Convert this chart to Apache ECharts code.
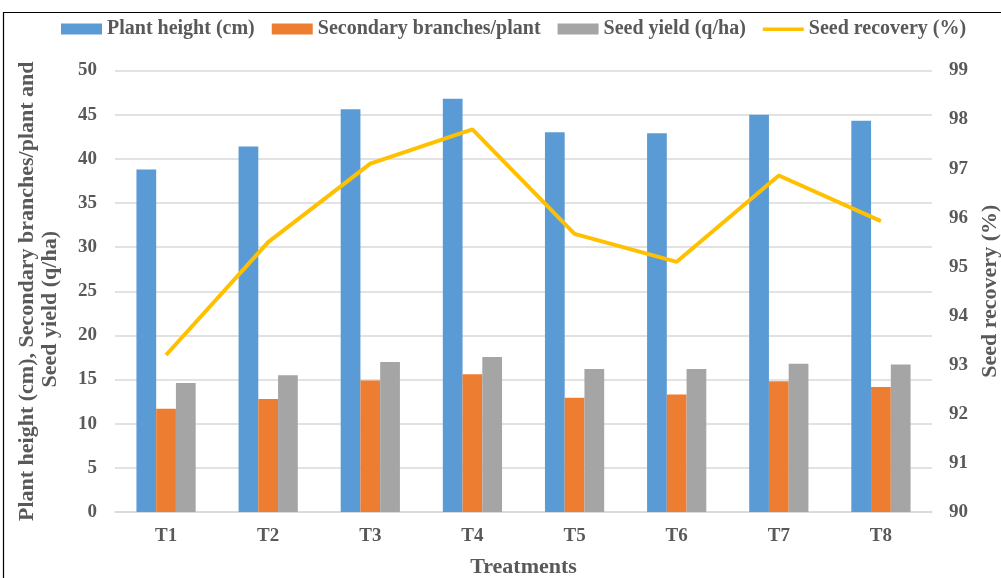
<!DOCTYPE html>
<html><head><meta charset="utf-8">
<script src="https://cdn.jsdelivr.net/npm/echarts@6/dist/echarts.min.js"></script>
<style>html,body{margin:0;padding:0;background:#fff}#c{width:1001px;height:578px}</style>
</head><body><div id="c"></div>
<script>
const categories = ['T1','T2','T3','T4','T5','T6','T7','T8'];
const plantHeight = [38.8, 41.4, 45.6, 46.8, 43.0, 42.9, 45.0, 44.3];
const secondaryBranches = [11.7, 12.8, 14.9, 15.6, 12.95, 13.3, 14.8, 14.15];
const seedYield = [14.6, 15.5, 17.0, 17.55, 16.2, 16.2, 16.8, 16.7];
const seedRecovery = [93.2, 95.5, 97.1, 97.8, 95.67, 95.1, 96.86, 95.93];
const leftTicks = {min: 0, max: 50, interval: 5};
const rightTicks = {min: 90, max: 99, interval: 1};

const FONT = '"Liberation Serif", "Times New Roman", serif';
const TXT = '#595959';
const lineIcon = 'path://M0,0L0.01,0L0.01,0.01Z M0,4L41,4L41,7.5L0,7.5Z M0,11L0.01,11L0.01,10.99Z';
const chart = echarts.init(document.getElementById('c'), null, {renderer: 'canvas'});
chart.setOption({
  animation: false,
  textStyle: {fontFamily: FONT},
  graphic: [{type: 'rect', shape: {x: 3.5, y: 12.5, width: 1010, height: 600}, style: {fill: 'none', stroke: '#000', lineWidth: 1.2}, silent: true, z: 100}],
  legend: {
    top: 19, left: 61, padding: 0,
    itemWidth: 41, itemHeight: 11, itemGap: 17,
    textStyle: {fontFamily: FONT, fontSize: 20, fontWeight: 'bold', color: TXT},
    data: [
      {name: 'Plant height (cm)', icon: 'rect'},
      {name: 'Secondary branches/plant', icon: 'rect'},
      {name: 'Seed yield (q/ha)', icon: 'rect'},
      {name: 'Seed recovery (%)', icon: lineIcon, itemStyle: {color: '#FFC000'}}
    ]
  },
  grid: {left: 115, right: 69, top: 70.5, bottom: 66, containLabel: false, outerBoundsMode: 'none'},
  xAxis: {
    type: 'category', data: categories,
    name: 'Treatments', nameLocation: 'middle', nameGap: 44,
    nameTextStyle: {fontFamily: FONT, fontSize: 22, fontWeight: 'bold', color: TXT},
    axisLine: {lineStyle: {color: '#D9D9D9', width: 1.5}},
    axisTick: {show: false},
    axisLabel: {fontFamily: FONT, fontSize: 19, fontWeight: 'bold', color: TXT, margin: 15}
  },
  yAxis: [{
    type: 'value', min: leftTicks.min, max: leftTicks.max, interval: leftTicks.interval,
    name: 'Plant height (cm), Secondary branches/plant and\n{s|Seed yield (q/ha)}',
    nameLocation: 'middle', nameGap: 53, nameRotate: 90,
    nameTextStyle: {fontFamily: FONT, fontSize: 22, fontWeight: 'bold', color: TXT, lineHeight: 23,
      rich: {s: {fontFamily: FONT, fontSize: 22, fontWeight: 'bold', color: TXT, lineHeight: 23, padding: [0, 36, 0, 0]}}},
    axisLine: {show: false}, axisTick: {show: false},
    axisLabel: {fontFamily: FONT, fontSize: 19, fontWeight: 'bold', color: TXT, margin: 18},
    splitLine: {lineStyle: {color: '#D9D9D9', width: 1.5}}
  }, {
    type: 'value', min: rightTicks.min, max: rightTicks.max, interval: rightTicks.interval,
    name: 'Seed recovery (%)', nameLocation: 'middle', nameGap: 47, nameRotate: 90,
    nameTextStyle: {fontFamily: FONT, fontSize: 22, fontWeight: 'bold', color: TXT},
    axisLine: {show: false}, axisTick: {show: false},
    axisLabel: {fontFamily: FONT, fontSize: 19, fontWeight: 'bold', color: TXT, margin: 17},
    splitLine: {show: false}
  }],
  series: [
    {name: 'Plant height (cm)', type: 'bar', data: plantHeight, itemStyle: {color: '#5B9BD5'}, barGap: '0%', barCategoryGap: '42%'},
    {name: 'Secondary branches/plant', type: 'bar', data: secondaryBranches, itemStyle: {color: '#ED7D31'}, barGap: '0%', barCategoryGap: '42%'},
    {name: 'Seed yield (q/ha)', type: 'bar', data: seedYield, itemStyle: {color: '#A5A5A5'}, barGap: '0%', barCategoryGap: '42%'},
    {name: 'Seed recovery (%)', type: 'line', yAxisIndex: 1, data: seedRecovery, showSymbol: false, symbol: 'none',
     lineStyle: {color: '#FFC000', width: 4}, itemStyle: {color: '#FFC000'}, z: 5}
  ]
});
</script></body></html>
